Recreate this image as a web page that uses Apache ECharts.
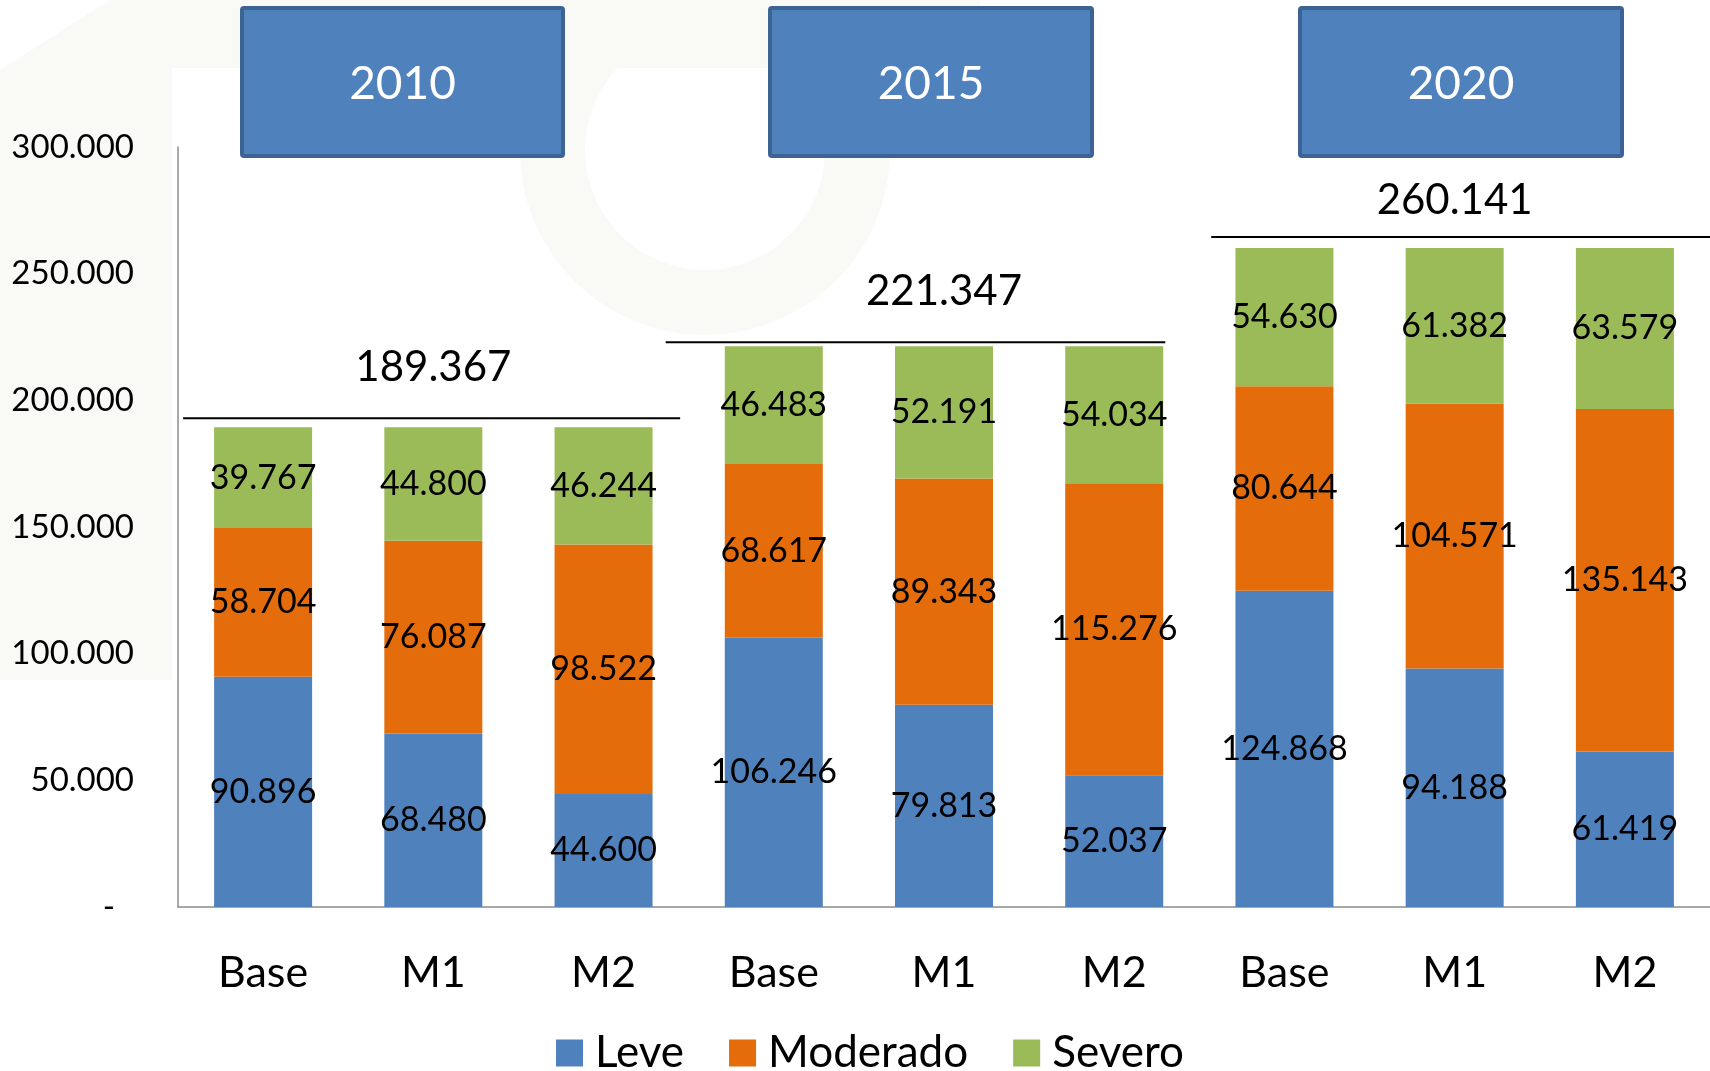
<!DOCTYPE html>
<html>
<head>
<meta charset="utf-8">
<script src="https://cdn.jsdelivr.net/npm/echarts@6/dist/echarts.min.js"></script>
<style>
html,body{margin:0;padding:0;background:#fff;}
#chart{width:1710px;height:1071px;}
</style>
</head>
<body>
<div id="chart"></div>
<script>
// ---- data ----
const categories = ['Base','M1','M2','Base','M1','M2','Base','M1','M2'];
const leve     = [90896, 68480, 44600, 106246, 79813, 52037, 124868, 94188, 61419];
const moderado = [58704, 76087, 98522, 68617, 89343, 115276, 80644, 104571, 135143];
const severo   = [39767, 44800, 46244, 46483, 52191, 54034, 54630, 61382, 63579];
const years = ['2010','2015','2020'];
const groupTotals = [189367, 221347, 260141];

// ---- styling (not data) ----
const FONT = 'Lato, "Open Sans", sans-serif';
const groupStartIdx = [0,3,6], groupEndIdx = [2,5,8], groupMidIdx = [1,4,7];
const lineStartOff = [0.03, -0.135, 0.07];   // fraction of band from group left edge
const lineEndOff   = [-0.05, -0.2, 0.0];     // fraction of band from group right edge
const lineGap = [9, 4, 11];                  // px above bar top
const textGap = [51, 51, 37];                // px above line
const boxes = [[242, 321], [770, 322], [1300, 322]];
const WM = '#f9f9f6';

function fmt(n){ return String(Math.round(n)).replace(/\B(?=(\d{3})+(?!\d))/g, '.'); }

const chart = echarts.init(document.getElementById('chart'));

const labelStyle = {
  show: true, position: 'inside', color: '#000', fontSize: 34, fontFamily: FONT,
  formatter: p => fmt(p.value)
};

const graphics = [
  // faint watermark
  { type: 'group', z: -10, silent: true, children: [
    { type: 'rect', shape: { x: 0, y: 0, width: 172, height: 680 }, style: { fill: WM } },
    { type: 'rect', shape: { x: 0, y: 0, width: 980, height: 68 }, style: { fill: WM } },
    { type: 'ring', shape: { cx: 705, cy: 150, r: 185, r0: 120 }, style: { fill: WM } },
    { type: 'polygon', shape: { points: [[0, 0], [110, 0], [0, 70]] }, style: { fill: '#fff' } }
  ]}
];
years.forEach((y, i) => {
  graphics.push({
    type: 'group', z: 10,
    children: [
      { type: 'rect', shape: { x: boxes[i][0], y: 8, width: boxes[i][1], height: 148, r: 2 },
        style: { fill: '#4f81bd', stroke: '#3b6394', lineWidth: 4 } },
      { type: 'text', x: boxes[i][0] + boxes[i][1] / 2, y: 84,
        style: { text: y, fill: '#fff', font: '46px ' + FONT, textAlign: 'center', textVerticalAlign: 'middle' } }
    ]
  });
});

chart.setOption({
  backgroundColor: '#ffffff',
  animation: false,
  graphic: graphics,
  legend: {
    data: ['Leve', 'Moderado', 'Severo'],
    left: 556, top: 1031, padding: 0,
    icon: 'rect', itemWidth: 27, itemHeight: 27, itemGap: 45,
    textStyle: { fontSize: 44, fontFamily: FONT, color: '#000', padding: [0, 0, 0, 7] }
  },
  grid: { left: 178, right: 0, top: 147, bottom: 164, containLabel: false },
  xAxis: {
    type: 'category', data: categories,
    axisLine: { lineStyle: { color: '#8c8c8c', width: 1.5 } },
    axisTick: { show: false },
    axisLabel: { fontSize: 43, fontFamily: FONT, color: '#000', margin: 45, interval: 0 }
  },
  yAxis: {
    type: 'value', min: 0, max: 300000, interval: 50000,
    axisLine: { show: true, lineStyle: { color: '#8c8c8c', width: 1.5 } },
    axisTick: { show: false },
    splitLine: { show: false },
    axisLabel: {
      fontSize: 33, fontFamily: FONT, color: '#000', margin: 44,
      formatter: v => v === 0 ? '{z|-}' : fmt(v),
      rich: { z: { fontSize: 33, fontFamily: FONT, color: '#000', padding: [0, 19, 0, 0] } }
    }
  },
  series: [
    { name: 'Leve', type: 'bar', stack: 'a', data: leve, barWidth: 98, itemStyle: { color: '#4f81bd' }, label: labelStyle },
    { name: 'Moderado', type: 'bar', stack: 'a', data: moderado, barWidth: 98, itemStyle: { color: '#e46c0a' }, label: labelStyle },
    { name: 'Severo', type: 'bar', stack: 'a', data: severo, barWidth: 98, itemStyle: { color: '#9bbb59' }, label: labelStyle },
    {
      name: 'totals', type: 'custom', z: 5, clip: false,
      data: groupTotals.map((t, i) => [groupMidIdx[i], t, groupStartIdx[i], groupEndIdx[i]]),
      encode: { x: 0, y: 1 },
      renderItem: function (params, api) {
        const i = params.dataIndex;
        const bw = api.size([1, 0])[0];
        const top = api.coord([api.value(0), api.value(1)]);
        const s = api.coord([api.value(2), 0])[0] - bw / 2 + lineStartOff[i] * bw;
        const e = api.coord([api.value(3), 0])[0] + bw / 2 + lineEndOff[i] * bw;
        const ly = top[1] - lineGap[i];
        return {
          type: 'group',
          children: [
            { type: 'line', shape: { x1: s, y1: ly, x2: e, y2: ly }, style: { stroke: '#000', lineWidth: 2 } },
            { type: 'text', x: top[0], y: ly - textGap[i],
              style: { text: fmt(api.value(1)), fill: '#000', font: '42px ' + FONT, textAlign: 'center', textVerticalAlign: 'middle' } }
          ]
        };
      }
    }
  ]
});
</script>
</body>
</html>
